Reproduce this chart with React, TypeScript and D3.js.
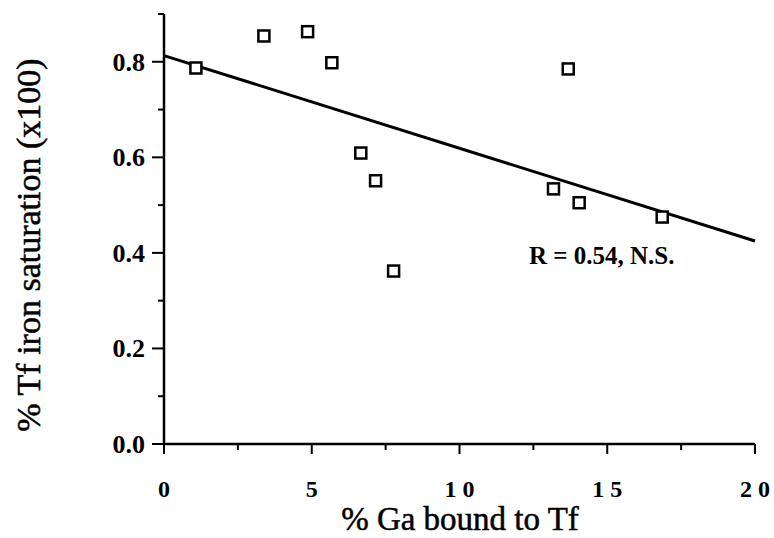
import React, { useRef, useEffect } from 'react';
import * as d3 from 'd3';

const gaBound = [1.08, 3.38, 4.86, 5.68, 6.66, 7.16, 7.77, 13.68, 13.18, 14.05, 16.86];
const ironSat = [0.787, 0.854, 0.863, 0.798, 0.609, 0.551, 0.362, 0.785, 0.534, 0.505, 0.475];
const fitX = [0, 20];
const fitY = [0.813, 0.425];
const xTickLabels = ['0', '5', '1 0', '1 5', '2 0'];
const yTickLabels = ['0.0', '0.2', '0.4', '0.6', '0.8'];

const W = 774;
const H = 538;
const font = '"Liberation Serif", "Times New Roman", serif';

const App = () => {
    const ref = useRef<SVGSVGElement>(null);

    useEffect(() => {
        const svg = d3.select(ref.current);
        svg.selectAll('*').remove();

        const x = d3.scaleLinear().domain([0, 20]).range([164, 755]);
        const y = d3.scaleLinear().domain([0, 0.9]).range([444, 14]);

        // axes lines
        svg.append('line')
            .attr('x1', x(0)).attr('x2', x(20))
            .attr('y1', y(0)).attr('y2', y(0))
            .attr('stroke', '#000').attr('stroke-width', 2.5);
        svg.append('line')
            .attr('x1', x(0)).attr('x2', x(0))
            .attr('y1', y(0)).attr('y2', y(0.9))
            .attr('stroke', '#000').attr('stroke-width', 2.5);

        // x ticks
        const xt = d3.range(0, 20.01, 2.5);
        svg.selectAll('.xt').data(xt).enter().append('line')
            .attr('x1', d => x(d)).attr('x2', d => x(d))
            .attr('y1', y(0))
            .attr('y2', d => y(0) + (d % 5 === 0 ? 10 : 6))
            .attr('stroke', '#000').attr('stroke-width', 2);
        svg.selectAll('.xl').data(xTickLabels).enter().append('text')
            .attr('x', (d, i) => x(i * 5))
            .attr('y', 497)
            .attr('text-anchor', 'middle')
            .attr('font-family', font).attr('font-weight', 'bold').attr('font-size', 24)
            .text(d => d);

        // y ticks
        const yt = d3.range(0, 0.91, 0.1);
        svg.selectAll('.yt').data(yt).enter().append('line')
            .attr('y1', d => y(d)).attr('y2', d => y(d))
            .attr('x1', x(0))
            .attr('x2', (d, i) => x(0) - (i % 2 === 0 && i < 9 ? 12 : 6))
            .attr('stroke', '#000').attr('stroke-width', 2);
        svg.selectAll('.yl').data(yTickLabels).enter().append('text')
            .attr('x', 145)
            .attr('y', (d, i) => y(i * 0.2) + 9)
            .attr('text-anchor', 'end')
            .attr('font-family', font).attr('font-weight', 'bold').attr('font-size', 26)
            .text(d => d);

        // fit line
        svg.append('line')
            .attr('x1', x(fitX[0])).attr('y1', y(fitY[0]))
            .attr('x2', x(fitX[1])).attr('y2', y(fitY[1]))
            .attr('stroke', '#000').attr('stroke-width', 3);

        // points
        const s = 11;
        svg.selectAll('.pt').data(gaBound).enter().append('rect')
            .attr('x', d => x(d) - s / 2)
            .attr('y', (d, i) => y(ironSat[i]) - s / 2)
            .attr('width', s).attr('height', s)
            .attr('fill', '#fff').attr('stroke', '#000').attr('stroke-width', 2.5);

        svg.append('text')
            .attr('x', 529).attr('y', 264)
            .attr('font-family', font).attr('font-weight', 'bold').attr('font-size', 25)
            .text('R = 0.54, N.S.');

        svg.append('text')
            .attr('x', 460).attr('y', 530)
            .attr('text-anchor', 'middle')
            .attr('font-family', font).attr('font-size', 33)
            .attr('stroke', '#000').attr('stroke-width', 0.5)
            .text('% Ga bound to Tf');

        svg.append('text')
            .attr('transform', `translate(40,${245}) rotate(-90)`)
            .attr('text-anchor', 'middle')
            .attr('font-family', font).attr('font-size', 34)
            .attr('stroke', '#000').attr('stroke-width', 0.5)
            .text('% Tf iron saturation (x100)');
    }, []);

    return (
        <svg ref={ref} width={W} height={H}
            style={{ position: 'absolute', left: 0, top: 0, background: '#fff' }} />
    );
};

export default App;
